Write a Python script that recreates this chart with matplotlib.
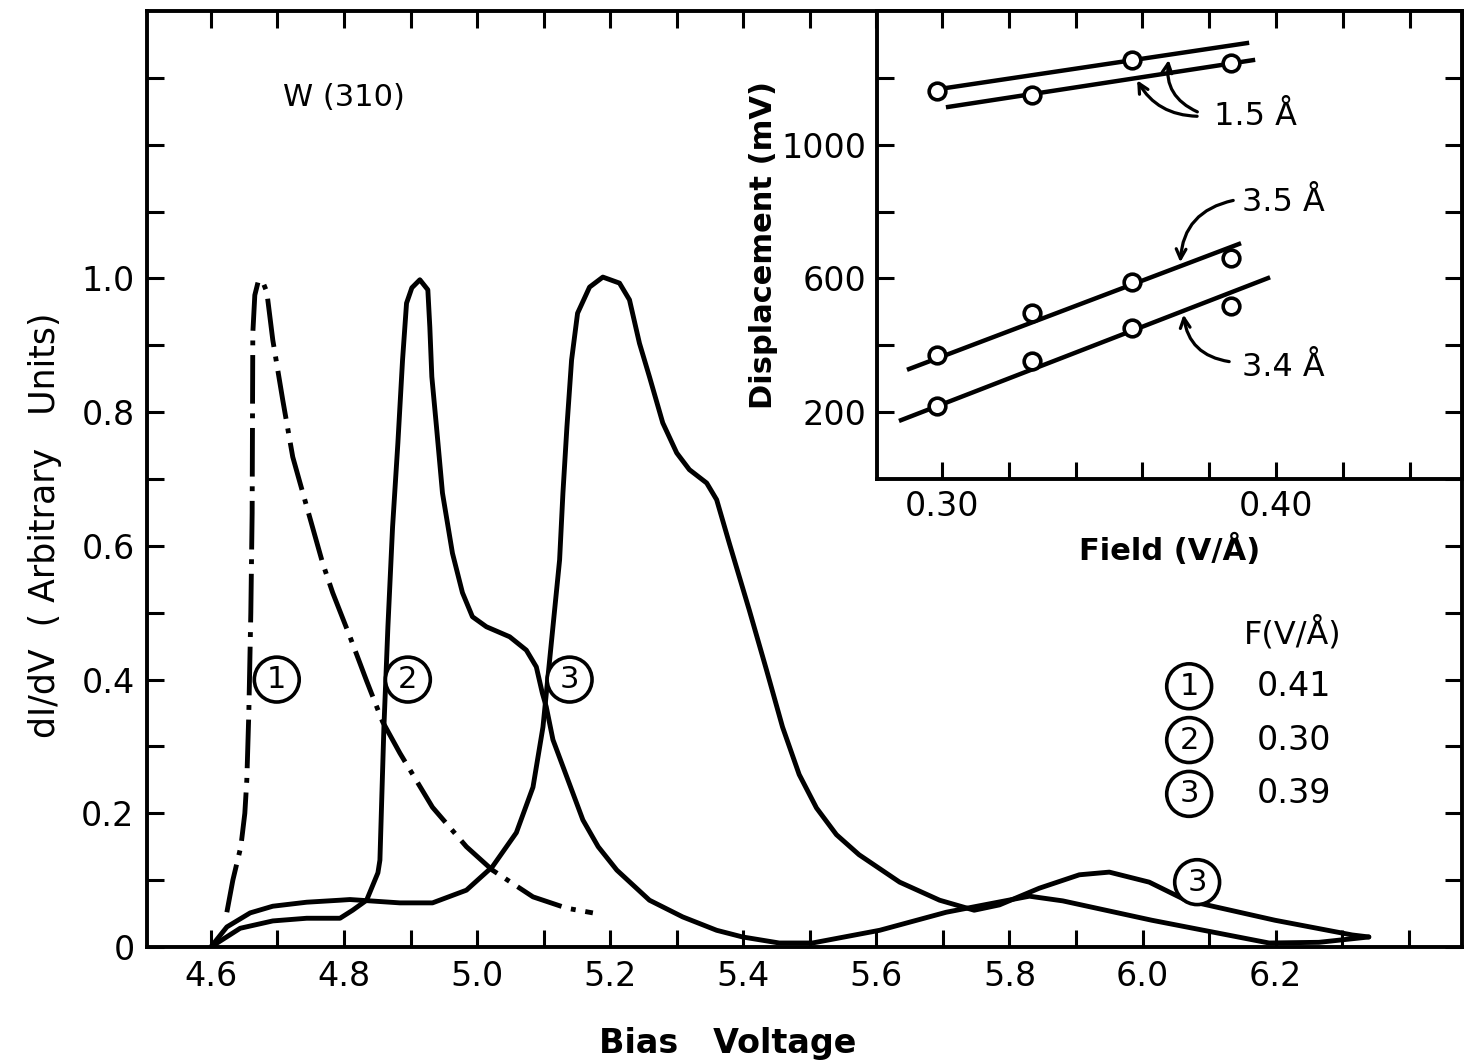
import numpy as np
import matplotlib.pyplot as plt

plt.rcParams['font.family'] = ['DejaVu Sans']

# --- main panel: dI/dV spectra of W(310) ---
# curve 1, F = 0.41 V/A (dash-dot)
bias_1 = [4.624, 4.633, 4.645, 4.651, 4.654, 4.657, 4.660, 4.662, 4.663, 4.666,
          4.671, 4.677, 4.684, 4.693, 4.708, 4.723, 4.734, 4.768, 4.783, 4.809,
          4.834, 4.858, 4.884, 4.933, 4.984, 5.023, 5.084, 5.135, 5.174]
didv_1 = [0.052, 0.100, 0.150, 0.200, 0.250, 0.350, 0.500, 0.649, 0.918, 0.975,
          0.995, 0.997, 0.980, 0.908, 0.818, 0.733, 0.694, 0.574, 0.530, 0.464,
          0.398, 0.337, 0.290, 0.209, 0.150, 0.115, 0.075, 0.058, 0.051]

# curve 2, F = 0.30 V/A
bias_2 = [4.600, 4.644, 4.693, 4.744, 4.794, 4.813, 4.834, 4.851, 4.854, 4.857,
          4.860, 4.866, 4.873, 4.881, 4.888, 4.894, 4.902, 4.914, 4.926, 4.929,
          4.932, 4.939, 4.948, 4.963, 4.978, 4.993, 5.014, 5.049, 5.074, 5.089,
          5.098, 5.104, 5.114, 5.135, 5.159, 5.182, 5.210, 5.259, 5.309, 5.360,
          5.399, 5.454, 5.504, 5.605, 5.705, 5.762, 5.830, 5.880, 6.014, 6.190,
          6.265, 6.340]
didv_2 = [0.000, 0.028, 0.039, 0.043, 0.043, 0.055, 0.070, 0.111, 0.130, 0.230,
          0.329, 0.479, 0.628, 0.754, 0.878, 0.963, 0.986, 0.998, 0.983, 0.927,
          0.853, 0.778, 0.679, 0.589, 0.530, 0.494, 0.479, 0.464, 0.444, 0.419,
          0.380, 0.359, 0.310, 0.254, 0.190, 0.150, 0.115, 0.070, 0.045, 0.025,
          0.015, 0.006, 0.006, 0.025, 0.052, 0.063, 0.076, 0.069, 0.040, 0.006,
          0.007, 0.015]

# curve 3, F = 0.39 V/A
bias_3 = [4.600, 4.624, 4.659, 4.693, 4.744, 4.794, 4.809, 4.884, 4.933, 4.984,
          5.023, 5.059, 5.084, 5.099, 5.109, 5.124, 5.129, 5.135, 5.142, 5.151,
          5.169, 5.189, 5.214, 5.229, 5.244, 5.259, 5.279, 5.300, 5.319, 5.345,
          5.360, 5.379, 5.409, 5.435, 5.459, 5.484, 5.510, 5.540, 5.574, 5.635,
          5.695, 5.747, 5.785, 5.845, 5.905, 5.950, 6.010, 6.065, 6.199, 6.315,
          6.340]
didv_3 = [0.000, 0.030, 0.051, 0.061, 0.067, 0.070, 0.071, 0.066, 0.066, 0.085,
          0.120, 0.171, 0.239, 0.329, 0.429, 0.579, 0.679, 0.778, 0.878, 0.948,
          0.987, 1.002, 0.993, 0.968, 0.903, 0.853, 0.784, 0.739, 0.714, 0.694,
          0.669, 0.604, 0.504, 0.414, 0.329, 0.258, 0.208, 0.168, 0.138, 0.097,
          0.070, 0.055, 0.063, 0.088, 0.108, 0.112, 0.097, 0.070, 0.040, 0.018,
          0.015]

x_ticks = [4.6, 4.7, 4.8, 4.9, 5.0, 5.1, 5.2, 5.3, 5.4, 5.5, 5.6, 5.7, 5.8, 5.9,
           6.0, 6.1, 6.2, 6.3, 6.4]
x_ticklabels = ['4.6', '', '4.8', '', '5.0', '', '5.2', '', '5.4', '', '5.6', '',
                '5.8', '', '6.0', '', '6.2', '', '']
y_ticks = [0.0, 0.1, 0.2, 0.3, 0.4, 0.5, 0.6, 0.7, 0.8, 0.9, 1.0, 1.1, 1.2, 1.3]
y_ticklabels = ['0', '', '0.2', '', '0.4', '', '0.6', '', '0.8', '', '1.0', '', '', '']

# legend of fields
field_ids = ['1', '2', '3']
field_vals = ['0.41', '0.30', '0.39']

# --- inset: peak displacement vs field ---
field_pts = [0.2985, 0.327, 0.357, 0.3866]
disp_15 = [1161, 1149, 1253, 1244]
disp_35 = [371, 497, 589, 661]
disp_34 = [218, 353, 452, 518]

# straight-line fits drawn in the inset (end points)
fit_15a_field = [0.2994, 0.3913]
fit_15a_disp = [1167, 1304]
fit_15b_field = [0.3018, 0.3931]
fit_15b_disp = [1113, 1253]
fit_35_field = [0.2901, 0.3889]
fit_35_disp = [329, 703]
fit_34_field = [0.2877, 0.3976]
fit_34_disp = [176, 601]

in_x_ticks = [0.30, 0.32, 0.34, 0.36, 0.38, 0.40, 0.42, 0.44]
in_x_ticklabels = ['0.30', '', '', '', '', '0.40', '', '']
in_y_ticks = [200, 400, 600, 800, 1000, 1200]
in_y_ticklabels = ['200', '', '600', '', '1000', '']

W, H = 1464, 1063
fig = plt.figure(figsize=(W / 100, H / 100), dpi=100)
ax = fig.add_axes([147 / W, 1 - 947 / H, (1462 - 147) / W, (947 - 11) / H])

lw = 3.5
ax.plot(bias_1, didv_1, color='black', lw=lw, linestyle=(0, (10, 2, 1, 2)),
        solid_joinstyle='round')
ax.plot(bias_2, didv_2, color='black', lw=lw, solid_joinstyle='round',
        solid_capstyle='round')
ax.plot(bias_3, didv_3, color='black', lw=lw, solid_joinstyle='round',
        solid_capstyle='round')

ax.set_xlim(4.504, 6.48)
ax.set_ylim(0, 1.4)
ax.set_xticks(x_ticks)
ax.set_xticklabels(x_ticklabels)
ax.set_yticks(y_ticks)
ax.set_yticklabels(y_ticklabels)
ax.tick_params(direction='in', length=12, width=2.2, top=True, right=True,
               labelsize=24, pad=9)
for s in ax.spines.values():
    s.set_linewidth(2.8)

circ = dict(boxstyle='circle,pad=0.26', fc='white', ec='black', lw=2.6)
tsize = 22
ax.text(4.699, 0.40, '1', ha='center', va='center', fontsize=tsize, bbox=circ)
ax.text(4.896, 0.40, '2', ha='center', va='center', fontsize=tsize, bbox=circ)
ax.text(5.139, 0.40, '3', ha='center', va='center', fontsize=tsize, bbox=circ)
ax.text(6.082, 0.097, '3', ha='center', va='center', fontsize=tsize, bbox=circ)

ax.text(4.80, 1.27, 'W (310)', ha='center', va='center', fontsize=22)

ax.text(6.225, 0.47, 'F(V/Å)', ha='center', va='center', fontsize=23)
for i, (fid, fv) in enumerate(zip(field_ids, field_vals)):
    yy = 0.39 - i * 0.0805
    ax.text(6.07, yy, fid, ha='center', va='center', fontsize=tsize, bbox=circ)
    ax.text(6.228, yy, fv, ha='center', va='center', fontsize=24)

fig.text(728 / W, 1 - 1043 / H, 'Bias   Voltage', ha='center', va='center',
         fontsize=24, fontweight='bold')
fig.text(45 / W, 1 - 525 / H, 'dI/dV  ( Arbitrary   Units)', ha='center',
         va='center', rotation=90, fontsize=25)

# inset
axi = fig.add_axes([877 / W, 1 - 479 / H, (1462 - 877) / W, (479 - 11) / H],
                   zorder=3)
axi.set_facecolor('white')
mlw = 3.2
axi.plot(fit_15a_field, fit_15a_disp, color='black', lw=mlw)
axi.plot(fit_15b_field, fit_15b_disp, color='black', lw=mlw)
axi.plot(fit_35_field, fit_35_disp, color='black', lw=mlw)
axi.plot(fit_34_field, fit_34_disp, color='black', lw=mlw)
for d in (disp_15, disp_35, disp_34):
    axi.plot(field_pts, d, linestyle='none', marker='o', ms=12, mfc='white',
             mec='black', mew=2.6)

axi.set_xlim(0.2805, 0.4557)
axi.set_ylim(0, 1400)
axi.set_xticks(in_x_ticks)
axi.set_xticklabels(in_x_ticklabels)
axi.set_yticks(in_y_ticks)
axi.set_yticklabels(in_y_ticklabels)
axi.tick_params(direction='in', length=12, width=2.2, top=True, right=True,
                labelsize=24, pad=8)
for s in axi.spines.values():
    s.set_linewidth(2.8)
axi.set_xlabel('Field (V/Å)', fontsize=22, fontweight='bold', labelpad=8)
axi.set_ylabel('Displacement (mV)', fontsize=22, fontweight='bold', labelpad=2)

arw = dict(arrowstyle='->,head_length=0.7,head_width=0.35', lw=2.3, color='black')
axi.text(0.3937, 1083, '1.5 Å', ha='center', va='center', fontsize=23)
axi.annotate('', xy=(0.368, 1262), xytext=(0.3772, 1095),
             arrowprops=dict(arw, connectionstyle='arc3,rad=-0.4'))
axi.annotate('', xy=(0.358, 1200), xytext=(0.3772, 1085),
             arrowprops=dict(arw, connectionstyle='arc3,rad=-0.3'))
axi.text(0.4021, 826, '3.5 Å', ha='center', va='center', fontsize=23)
axi.annotate('', xy=(0.3713, 640), xytext=(0.388, 835),
             arrowprops=dict(arw, connectionstyle='arc3,rad=0.4'))
axi.text(0.4021, 335, '3.4 Å', ha='center', va='center', fontsize=23)
axi.annotate('', xy=(0.3722, 500), xytext=(0.3868, 350),
             arrowprops=dict(arw, connectionstyle='arc3,rad=-0.4'))

fig.savefig('out.png', dpi=100)
